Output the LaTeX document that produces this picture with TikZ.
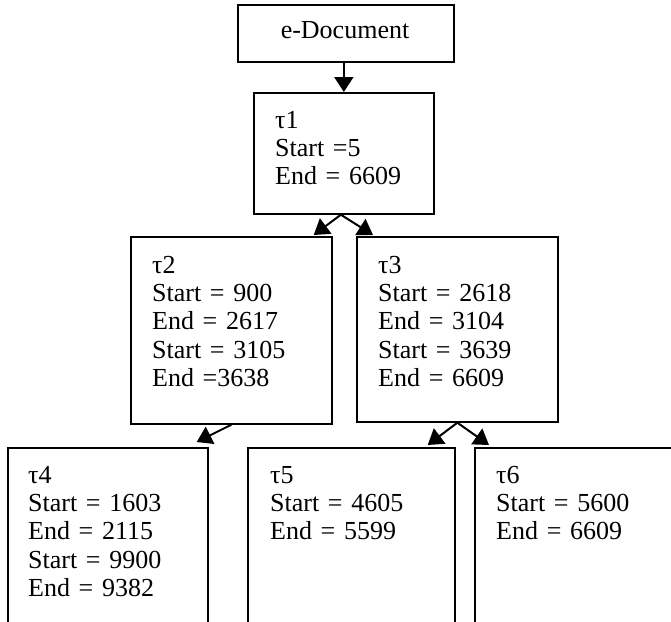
\documentclass[tikz,border=0pt]{standalone}
\usepackage{fontspec}
\setmainfont{Liberation Serif}
\usetikzlibrary{arrows.meta,calc}

% Times-style text at 26pt with tight word spacing
\newcommand{\boxfont}{\fontsize{26}{28.4}\selectfont\spaceskip=3.2pt\relax}

\begin{document}
\begin{tikzpicture}[x=1pt,y=-1pt,
  box/.style={draw=black,line width=1.7pt,fill=none,inner sep=0pt,anchor=north west},
  lines/.style={inner sep=0pt,anchor=base west,text width=190pt,align=left,font=\boxfont},
  link/.style={line width=2pt,-{Triangle[length=15pt,width=19pt]}}]

  \clip (0,0) rectangle (671,621);

  % root document box
  \node[box,minimum width=216pt,minimum height=57pt] (doc) at (237,4) {};
  \node[inner sep=0pt,anchor=base,font=\boxfont] (doctxt) at (345,38.5) {e-Document};

  % first level
  \node[box,minimum width=180pt,minimum height=121pt] (t1) at (253,92) {};
  \node[lines] (t1txt) at ($(t1.north west)+(22,36)$) {τ1\\Start =5\\End = 6609};

  % second level
  \node[box,minimum width=201pt,minimum height=187pt] (t2) at (130,236) {};
  \node[lines] (t2txt) at ($(t2.north west)+(22,37)$) {τ2\\Start = 900\\End = 2617\\Start = 3105\\End =3638};

  \node[box,minimum width=201pt,minimum height=185pt] (t3) at (356,236) {};
  \node[lines] (t3txt) at ($(t3.north west)+(22,37)$) {τ3\\Start = 2618\\End = 3104\\Start = 3639\\End = 6609};

  % third level (running past the lower edge)
  \node[box,minimum width=200pt,minimum height=220pt] (t4) at (7,447) {};
  \node[lines] (t4txt) at ($(t4.north west)+(21,36)$) {τ4\\Start = 1603\\End = 2115\\Start = 9900\\End = 9382};

  \node[box,minimum width=207pt,minimum height=220pt] (t5) at (247,447) {};
  \node[lines] (t5txt) at ($(t5.north west)+(23,36)$) {τ5\\Start = 4605\\End = 5599};

  \node[box,minimum width=250pt,minimum height=220pt] (t6) at (474,447) {};
  \node[lines] (t6txt) at ($(t6.north west)+(22,36)$) {τ6\\Start = 5600\\End = 6609};

  % connectors
  \draw[link] (t1.north |- doc.south) -- (t1.north);
  \draw[link] ($(t1.south)+(-3,0)$) -- ($(t2.north east)+(-19,-1)$);
  \draw[link] ($(t1.south)+(-3,0)$) -- ($(t3.north west)+(17,-1)$);
  \draw[link] (t2.south) -- ($(t4.north east)+(-12,-5)$);
  \draw[link] (t3.south) -- ($(t5.north east)+(-28,-2)$);
  \draw[link] (t3.south) -- ($(t6.north west)+(15,-2)$);
\end{tikzpicture}
\end{document}
